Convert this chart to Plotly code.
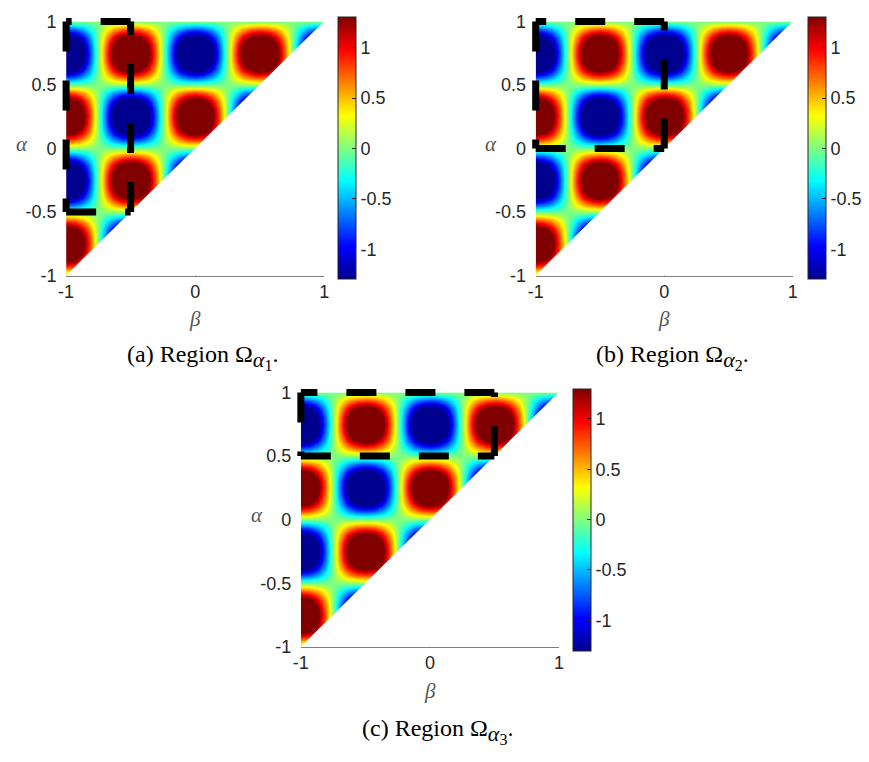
import numpy as np
import plotly.graph_objects as go

W, H = 869, 762

# ---------------- data ----------------
beta_grid = np.linspace(-1, 1, 33)    # beta axis samples
alpha_grid = np.linspace(-1, 1, 33)   # alpha axis samples

# value profile read along alpha (through a blob centre) and along beta
alpha_profile = [0.00, 0.38, 0.71, 0.92, 1.00, 0.92, 0.71, 0.38, 0.00, -0.38, -0.71,
                 -0.92, -1.00, -0.92, -0.71, -0.38, 0.00, 0.38, 0.71, 0.92, 1.00, 0.92,
                 0.71, 0.38, 0.00, -0.38, -0.71, -0.92, -1.00, -0.92, -0.71, -0.38, 0.00]
beta_profile = [1.00, 0.92, 0.71, 0.38, 0.00, -0.38, -0.71, -0.92, -1.00, -0.92, -0.71,
                -0.38, 0.00, 0.38, 0.71, 0.92, 1.00, 0.92, 0.71, 0.38, 0.00, -0.38,
                -0.71, -0.92, -1.00, -0.92, -0.71, -0.38, 0.00, 0.38, 0.71, 0.92, 1.00]
peak_value = 2.1
color_limits = [-1.3, 1.3]

axis_ticks_beta = [-1, 0, 1]
axis_ticks_alpha = [-1, -0.5, 0, 0.5, 1]
cbar_ticks = [-1, -0.5, 0, 0.5, 1]
tick_text = {-1: "-1", -0.5: "-0.5", 0: "0", 0.5: "0.5", 1: "1"}

region_beta = [[-1, -0.5], [-1, 0], [-1, 0.5]]
region_alpha = [[-0.5, 1], [0, 1], [0.5, 1]]
caption_letters = ["a", "b", "c"]
caption_index = ["1", "2", "3"]

z = peak_value * np.outer(alpha_profile, beta_profile)

# ---------------- style / layout ----------------
jet = [[0.0, "rgb(0,0,143)"], [0.125, "rgb(0,0,255)"], [0.375, "rgb(0,255,255)"],
       [0.625, "rgb(255,255,0)"], [0.875, "rgb(255,0,0)"], [1.0, "rgb(128,0,0)"]]

# pixel boxes of the three plot areas (x0, x1, ytop, ybottom)
boxes = [(59, 321, 11.7, 272.7), (535.7, 796.7, 11.7, 272.7), (297.3, 559.3, 392.7, 654)]
cbar_left = [335, 812.3, 573.3]
caption_pos = [(119, 357), (595, 357), (357, 741)]   # left edge, middle

TICKFONT = dict(family="Liberation Sans, Arial", size=18, color="#262626")
LABELFONT = dict(family="Liberation Serif, Times New Roman", size=21, color="#555555")

def px_x(v):
    return v / W

def px_y(v):
    return 1 - v / H

def caption_text(letter, idx):
    return (f"({letter}) Region Ω<sub><span style='font-size:22px'><i>α</i></span>"
            f"<sub><span style='font-size:16px'>{idx}</span></sub></sub>.")

fig = go.Figure()
layout = dict(width=W, height=H, margin=dict(l=0, r=0, t=0, b=0), autosize=False,
              paper_bgcolor="white", plot_bgcolor="rgba(0,0,0,0)", showlegend=False,
              annotations=[])

bmin, bmax = float(beta_grid[0]), float(beta_grid[-1])
amin, amax = float(alpha_grid[0]), float(alpha_grid[-1])
span = bmax - bmin

for i in range(3):
    x0, x1, yt, yb = boxes[i]
    n = i + 1
    sfx = "" if n == 1 else str(n)
    ov = n + 3
    # main axes
    layout[f"xaxis{sfx}"] = dict(domain=[px_x(x0), px_x(x1)], range=[bmin, bmax], anchor=f"y{sfx}",
                                 tickvals=axis_ticks_beta, ticktext=[tick_text[t] for t in axis_ticks_beta],
                                 ticks="inside", ticklen=4, tickcolor="#808080", showline=True,
                                 linecolor="#808080", linewidth=1, showgrid=False, zeroline=False,
                                 tickfont=TICKFONT, ticklabelstandoff=0)
    layout[f"yaxis{sfx}"] = dict(domain=[px_y(yb), px_y(yt)], range=[amin, amax], anchor=f"x{sfx}",
                                 tickvals=axis_ticks_alpha, ticktext=[tick_text[t] for t in axis_ticks_alpha],
                                 ticks="outside", ticklen=5, tickcolor="rgba(0,0,0,0)",
                                 showline=False, showgrid=False, zeroline=False,
                                 tickfont=TICKFONT)
    # overlay axes with a few pixels of room for the dashed outlines
    pad = 8
    ppu_x = (x1 - x0) / (bmax - bmin)
    ppu_y = (yb - yt) / (amax - amin)
    layout[f"xaxis{ov}"] = dict(domain=[px_x(x0 - pad), px_x(x1 + pad)],
                                range=[bmin - pad / ppu_x, bmax + pad / ppu_x],
                                anchor=f"y{ov}", visible=False)
    layout[f"yaxis{ov}"] = dict(domain=[px_y(yb + pad), px_y(yt - pad)],
                                range=[amin - pad / ppu_y, amax + pad / ppu_y],
                                anchor=f"x{ov}", visible=False)
    layout[f"coloraxis{sfx}"] = dict(
        cmin=color_limits[0], cmax=color_limits[1], colorscale=jet,
        colorbar=dict(x=px_x(cbar_left[i]), xanchor="left", y=px_y((yt + yb) / 2), yanchor="middle",
                      len=yb - yt + 1, lenmode="pixels", thickness=18, thicknessmode="pixels",
                      xpad=0, ypad=0, outlinewidth=1, outlinecolor="#262626",
                      ticks="inside", ticklen=4, tickcolor="#262626",
                      tickvals=cbar_ticks, ticktext=[tick_text[t] for t in cbar_ticks],
                      tickfont=TICKFONT))

    fig.add_trace(go.Heatmap(x=beta_grid, y=alpha_grid, z=z, coloraxis=f"coloraxis{sfx}",
                             zsmooth="best", xaxis=f"x{sfx}", yaxis=f"y{sfx}", hoverinfo="skip"))
    # blank the half beta > alpha
    ext = 0.1 * span
    fig.add_trace(go.Scatter(x=[bmin - ext, bmax + ext, bmax + ext, bmin - ext],
                             y=[amin - ext, amax + ext, amin - ext, amin - ext], mode="lines",
                             fill="toself", fillcolor="white", line=dict(width=0, color="white"),
                             xaxis=f"x{sfx}", yaxis=f"y{sfx}", hoverinfo="skip"))
    # same blanking on the roomier overlay axes, hiding any seam at the right frame edge
    fig.add_trace(go.Scatter(x=[bmin, bmax + ext, bmax + ext, bmin],
                             y=[amin, amax + ext, amin, amin], mode="lines",
                             fill="toself", fillcolor="white", line=dict(width=0, color="white"),
                             xaxis=f"x{ov}", yaxis=f"y{ov}", hoverinfo="skip"))
    # dashed region outline, each side drawn on its own
    b0, b1 = region_beta[i]
    a0, a1 = region_alpha[i]
    sides = [([b0, b1], [a0, a0]), ([b1, b1], [a0, a1]), ([b1, b0], [a1, a1]), ([b0, b0], [a1, a0])]
    for sx, sy in sides:
        fig.add_trace(go.Scatter(x=sx, y=sy, mode="lines",
                                 line=dict(color="black", width=7, dash="30px,29px"),
                                 xaxis=f"x{ov}", yaxis=f"y{ov}", hoverinfo="skip"))

    # axis labels and caption
    layout["annotations"].append(dict(text="<i>α</i>", x=px_x(x0 - 45), y=px_y(yt + 126),
                                      xref="paper", yref="paper", showarrow=False, font=LABELFONT,
                                      xanchor="center", yanchor="middle"))
    layout["annotations"].append(dict(text="<i>β</i>", x=px_x((x0 + x1) / 2), y=px_y(yb + 45),
                                      xref="paper", yref="paper", showarrow=False, font=LABELFONT,
                                      xanchor="center", yanchor="middle"))
    cx, cy = caption_pos[i]
    layout["annotations"].append(dict(text=caption_text(caption_letters[i], caption_index[i]),
                                      x=px_x(cx), y=px_y(cy), xref="paper",
                                      yref="paper", showarrow=False, xanchor="left", yanchor="middle",
                                      font=dict(family="Liberation Serif, Times New Roman", size=24,
                                                color="black")))

fig.update_layout(**layout)
fig.write_html("out.html")
